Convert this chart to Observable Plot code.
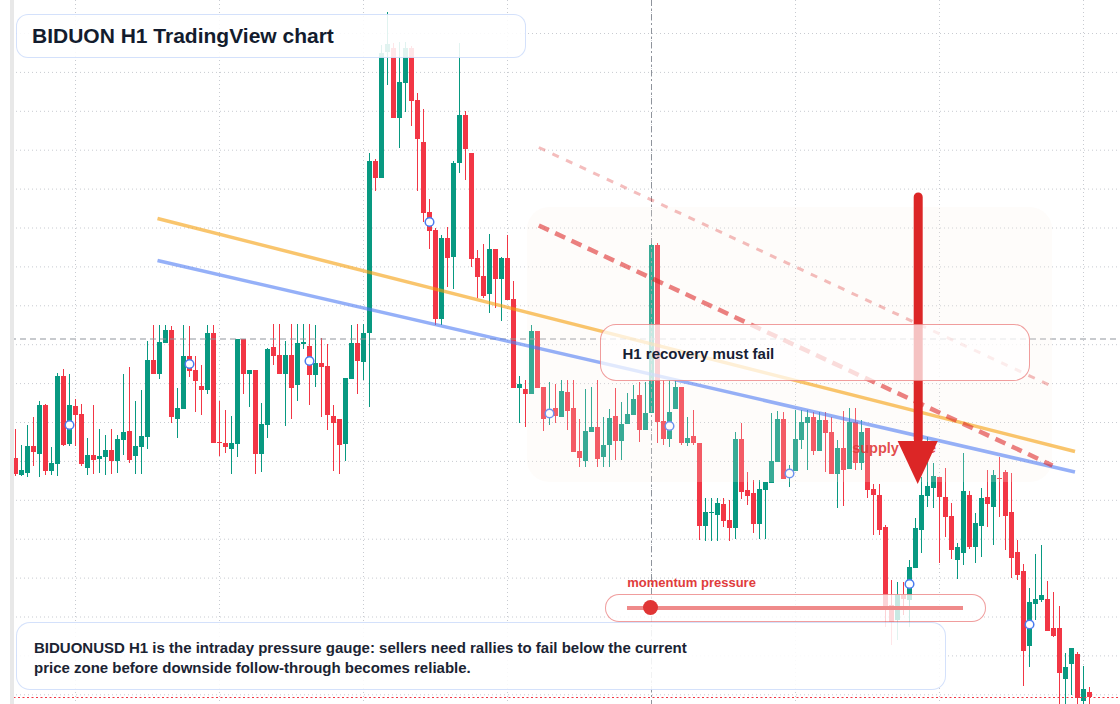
<!DOCTYPE html>
<html>
<head>
<meta charset="utf-8">
<script src="https://cdn.jsdelivr.net/npm/d3@7"></script>
<script src="https://cdn.jsdelivr.net/npm/@observablehq/plot@0.6"></script>
<style>
  html, body { margin: 0; padding: 0; background: #ffffff; }
  #wrap { position: relative; width: 1120px; height: 704px; overflow: hidden;
          font-family: "Liberation Sans", Arial, Helvetica, sans-serif; }
  #chart { position: absolute; left: 0; top: 0; }
  .abs { position: absolute; box-sizing: border-box; }
  .txt { position: absolute; white-space: nowrap; font-weight: bold; }
</style>
</head>
<body>
<div id="wrap">
  <div id="chart"></div>
  <div class="abs" style="left:0;top:0;width:10px;height:704px;background:#ffffff;"></div>
  <div class="abs" style="left:10px;top:0;width:4px;height:704px;background:#e8e8e8;"></div>

  <div class="abs" id="recoveryBox" style="left:600px;top:323.5px;width:430px;height:57px;border-radius:16px;border:1.5px solid rgba(225,60,60,0.5);background:rgba(255,255,255,0.72);"></div>
  <div class="txt" id="recoveryText" style="left:622.5px;top:343.8px;font-size:15px;line-height:20px;color:#172033;"></div>

  <div class="txt" id="gaugeLabel" style="left:627.3px;top:574.5px;font-size:13px;line-height:16px;color:#e03c3c;"></div>
  <div class="abs" style="left:605px;top:593.5px;width:381px;height:28.5px;border-radius:14.5px;border:1.5px solid rgba(225,60,60,0.5);background:rgba(255,255,255,0.78);"></div>
  <div class="abs" id="gaugeTrack" style="left:627px;top:605.5px;width:336px;height:4px;background:#ef8a8a;"></div>
  <div class="abs" id="gaugeKnob" style="top:600px;width:15px;height:15px;border-radius:50%;background:#e03535;"></div>

  <div class="abs" style="left:15.5px;top:621.5px;width:930.5px;height:68px;border-radius:14px;border:1.5px solid rgba(147,180,245,0.4);background:rgba(255,255,255,0.88);"></div>
  <div class="txt" id="caption" style="left:34px;top:638.1px;font-size:15px;line-height:20px;color:#1b2433;"></div>

  <div class="abs" style="left:16px;top:13.5px;width:510px;height:44.5px;border-radius:12px;border:1.5px solid rgba(147,180,245,0.4);background:rgba(255,255,255,0.88);"></div>
  <div class="txt" id="title" style="left:32px;top:24px;font-size:21px;line-height:24px;color:#131c2e;"></div>
</div>
<script>
// ---- Hourly candles (price units, arbitrary scale) ----
const open = [
  246,229,231,258,250,299,233,240,328,260,
  298,290,236,249,245,247,254,243,264,273,
  248,257,267,344,330,361,374,285,295,348,
  334,318,314,371,262,261,255,260,365,330,
  334,250,279,357,349,330,349,319,360,358,
  329,341,338,288,285,260,325,361,342,371,
  543,526,652,656,586,621,656,604,562,492,
  474,385,466,447,541,589,551,446,428,410,
  455,425,446,405,316,315,310,373,317,288,
  296,287,312,296,253,243,272,277,247,259,
  288,263,280,289,309,274,291,459,283,265,
  295,317,261,268,261,178,191,189,200,184,
  176,265,214,211,180,214,221,242,285,228,
  233,264,281,287,253,284,272,230,256,235,
  282,241,276,215,209,177,99,84,109,104,
  136,174,208,216,227,207,188,144,151,209,
  157,178,207,197,226,232,192,152,133,58,
  100,104,105,76,76,25,40,50,3,12
];
const high = [
  275,259,279,287,303,300,257,331,335,330,
  305,300,266,299,275,269,275,269,330,337,
  303,314,363,379,379,379,378,316,379,378,
  348,339,379,379,303,294,288,365,365,334,
  334,301,356,380,380,363,380,380,380,380,
  379,366,360,299,285,326,379,380,380,551,
  545,659,692,661,662,662,658,611,595,505,
  476,469,477,543,661,593,551,454,460,470,
  455,447,469,423,328,324,379,373,317,322,
  320,324,324,324,285,315,317,324,287,295,
  316,302,311,319,322,322,461,461,324,324,
  324,317,287,294,261,206,206,206,206,204,
  272,281,232,224,224,222,291,293,292,239,
  294,294,294,292,292,292,287,264,293,296,
  296,284,276,220,220,179,124,122,122,144,
  186,227,267,241,227,236,201,161,251,213,
  191,216,234,234,247,234,231,164,140,116,
  150,159,123,112,98,51,56,52,38,17
];
const low = [
  228,228,227,238,227,229,229,228,258,258,
  258,238,229,230,231,229,230,231,249,241,
  230,230,255,330,325,361,281,266,295,327,
  292,289,310,261,248,251,230,247,310,297,
  230,232,266,339,330,278,285,303,355,299,
  317,287,274,233,230,243,325,310,324,297,
  513,526,619,586,556,592,578,513,482,455,
  379,379,417,415,531,524,437,406,406,391,
  396,383,404,316,281,277,310,316,273,279,
  281,287,274,252,237,237,272,237,237,237,
  244,244,280,289,262,274,291,261,259,257,
  295,259,258,259,164,163,163,163,177,163,
  165,205,199,171,165,165,221,242,225,217,
  233,255,234,249,253,232,230,196,198,235,
  234,234,206,169,169,77,59,64,89,77,
  136,151,197,196,141,167,145,125,139,155,
  141,147,177,159,187,154,126,124,18,37,
  84,102,73,67,0,0,9,0,0,0
];
const close = [
  230,234,258,252,299,233,241,328,259,299,
  289,240,249,244,248,254,243,265,272,244,
  258,268,344,330,362,374,287,296,348,333,
  323,314,371,261,261,257,261,365,330,334,
  250,280,355,348,330,349,316,361,362,329,
  341,337,289,281,259,326,361,343,371,543,
  526,651,660,586,622,656,603,565,491,473,
  385,466,446,541,589,555,445,427,408,455,
  425,446,404,316,320,310,373,316,285,294,
  288,313,293,252,246,273,277,245,259,286,
  263,280,290,305,274,291,459,282,265,292,
  317,261,266,261,178,192,192,201,183,176,
  265,212,208,180,215,222,243,285,225,234,
  265,282,287,253,284,271,230,256,234,282,
  241,272,214,209,174,97,82,109,105,137,
  176,209,218,228,207,187,154,157,213,157,
  181,206,200,229,225,188,146,129,53,102,
  105,109,73,68,31,37,56,6,15,7
];

// grid / tick positions (price units and session start indices)
const gridPrices = [9.7, 48.6, 87.5, 126.4, 165.3, 204.2, 243.1, 282, 320.9, 359.8, 398.7, 437.6, 476.5, 515.4, 554.3, 593.2, 632.1, 671];
const sessionStarts = [10, 34, 58, 82, 106, 130, 154, 178];
const crosshair = {i: 106, price: 365.5};
const markerEvery = 20, markerFirst = 9;

// annotation geometry in data units (candle index, price)
const trendLines = [
  {name: "upper channel", x1: 23.67, y1: 486, x2: 176.58, y2: 253, stroke: "#f59e0b", opacity: 0.6, width: 3.5, dash: null},
  {name: "lower channel", x1: 23.67, y1: 444, x2: 176.58, y2: 232.5, stroke: "#4f7cf3", opacity: 0.6, width: 3.5, dash: null},
  {name: "resistance", x1: 87.22, y1: 479, x2: 172.83, y2: 239, stroke: "#dc2626", opacity: 0.58, width: 4.5, dash: "11,7"},
  {name: "upper resistance", x1: 87.22, y1: 557, x2: 172.83, y2: 318, stroke: "#dc2626", opacity: 0.3, width: 3, dash: "7,8"}
];
const zone = {x1: 85.33, x2: 172.83, y1: 222, y2: 497};
const supplyLabel = {x: 139.45, y: 256.5, text: "supply zone"};
const arrow = {i: 150.45, tail: 507, base: 265, headTop: 263, tip: 220, half: 3.35};
const momentumPressure = 0.07;

const titleText = "BIDUON H1 TradingView chart";
const captionLines = [
  "BIDUONUSD H1 is the intraday pressure gauge: sellers need rallies to fail below the current",
  "price zone before downside follow-through becomes reliable."
];
const recoveryText = "H1 recovery must fail";
const gaugeText = "momentum pressure";

// ---- build ----
const UP = "#089981", DOWN = "#f23645";
const candles = open.map((o, i) => {
  const c = close[i];
  let b1 = Math.min(o, c), b2 = Math.max(o, c);
  if (b2 - b1 < 1) b2 = b1 + 1;
  return {i, open: o, high: high[i], low: low[i], close: c, up: c >= o, b1, b2};
});
const ups = candles.filter(d => d.up), downs = candles.filter(d => !d.up);
const markers = candles.filter(d => d.i % markerEvery === markerFirst).map(d => ({i: d.i, mid: (d.open + d.close) / 2}));
const headPts = [
  {x: arrow.i - arrow.half, y1: arrow.headTop, y2: arrow.headTop},
  {x: arrow.i, y1: arrow.headTop, y2: arrow.tip},
  {x: arrow.i + arrow.half, y1: arrow.headTop, y2: arrow.headTop}
];

const FONT = '"Liberation Sans", Arial, Helvetica, sans-serif';
const chart = Plot.plot({
  width: 1120, height: 704,
  marginTop: 0, marginRight: 0, marginBottom: 0, marginLeft: 0,
  x: {type: "linear", domain: [-15 / 6, (1120 - 15) / 6], range: [0, 1120], axis: null},
  y: {type: "linear", domain: [0, 704], range: [704, 0], axis: null},
  style: {background: "transparent", fontFamily: FONT},
  marks: [
    Plot.ruleY(gridPrices, {stroke: "#c8cbd1", strokeDasharray: "1,3"}),
    Plot.ruleX(sessionStarts, {stroke: "#c8cbd1", strokeDasharray: "1,3"}),
    Plot.ruleX(ups, {x: "i", y1: "low", y2: "high", stroke: UP, strokeWidth: 1}),
    Plot.ruleX(downs, {x: "i", y1: "low", y2: "high", stroke: DOWN, strokeWidth: 1}),
    Plot.ruleX(ups, {x: "i", y1: "b1", y2: "b2", stroke: UP, strokeWidth: 5}),
    Plot.ruleX(downs, {x: "i", y1: "b1", y2: "b2", stroke: DOWN, strokeWidth: 5}),
    Plot.ruleX([crosshair], {x: "i", stroke: "#8f949c", strokeDasharray: "6,3,2,3"}),
    Plot.ruleY([crosshair], {y: "price", stroke: "#8f949c", strokeDasharray: "6,4"}),
    Plot.ruleY([close[close.length - 1]], {stroke: DOWN, strokeDasharray: "2,2.5"}),
    Plot.dot(markers, {x: "i", y: "mid", r: 4.3, stroke: "#4a7bf0", strokeWidth: 1.5, fill: "white"}),
    Plot.rect([zone], {x1: "x1", x2: "x2", y1: "y1", y2: "y2", fill: "#fbeee8", fillOpacity: 0.2, rx: 22}),
    ...trendLines.map(t => Plot.link([t], {x1: "x1", y1: "y1", x2: "x2", y2: "y2", stroke: t.stroke, strokeOpacity: t.opacity, strokeWidth: t.width, strokeDasharray: t.dash})),
    Plot.text([supplyLabel], {x: "x", y: "y", text: "text", textAnchor: "start", fontSize: 14.5, fontWeight: "bold", fill: "#e03b3b", fillOpacity: 0.92, fontFamily: FONT}),
    Plot.ruleX([arrow], {x: "i", y1: "base", y2: "tail", stroke: "#dc2626", strokeWidth: 9, strokeLinecap: "round"}),
    Plot.areaY(headPts, {x: "x", y1: "y1", y2: "y2", fill: "#dc2626"})
  ]
});
document.getElementById("chart").appendChild(chart);

document.getElementById("title").textContent = titleText;
document.getElementById("recoveryText").textContent = recoveryText;
document.getElementById("gaugeLabel").textContent = gaugeText;
const cap = document.getElementById("caption");
captionLines.forEach((l, k) => { if (k) cap.appendChild(document.createElement("br")); cap.appendChild(document.createTextNode(l)); });
const knob = document.getElementById("gaugeKnob");
knob.style.left = (627 + momentumPressure * 336 - 7.5) + "px";
</script>
</body>
</html>
